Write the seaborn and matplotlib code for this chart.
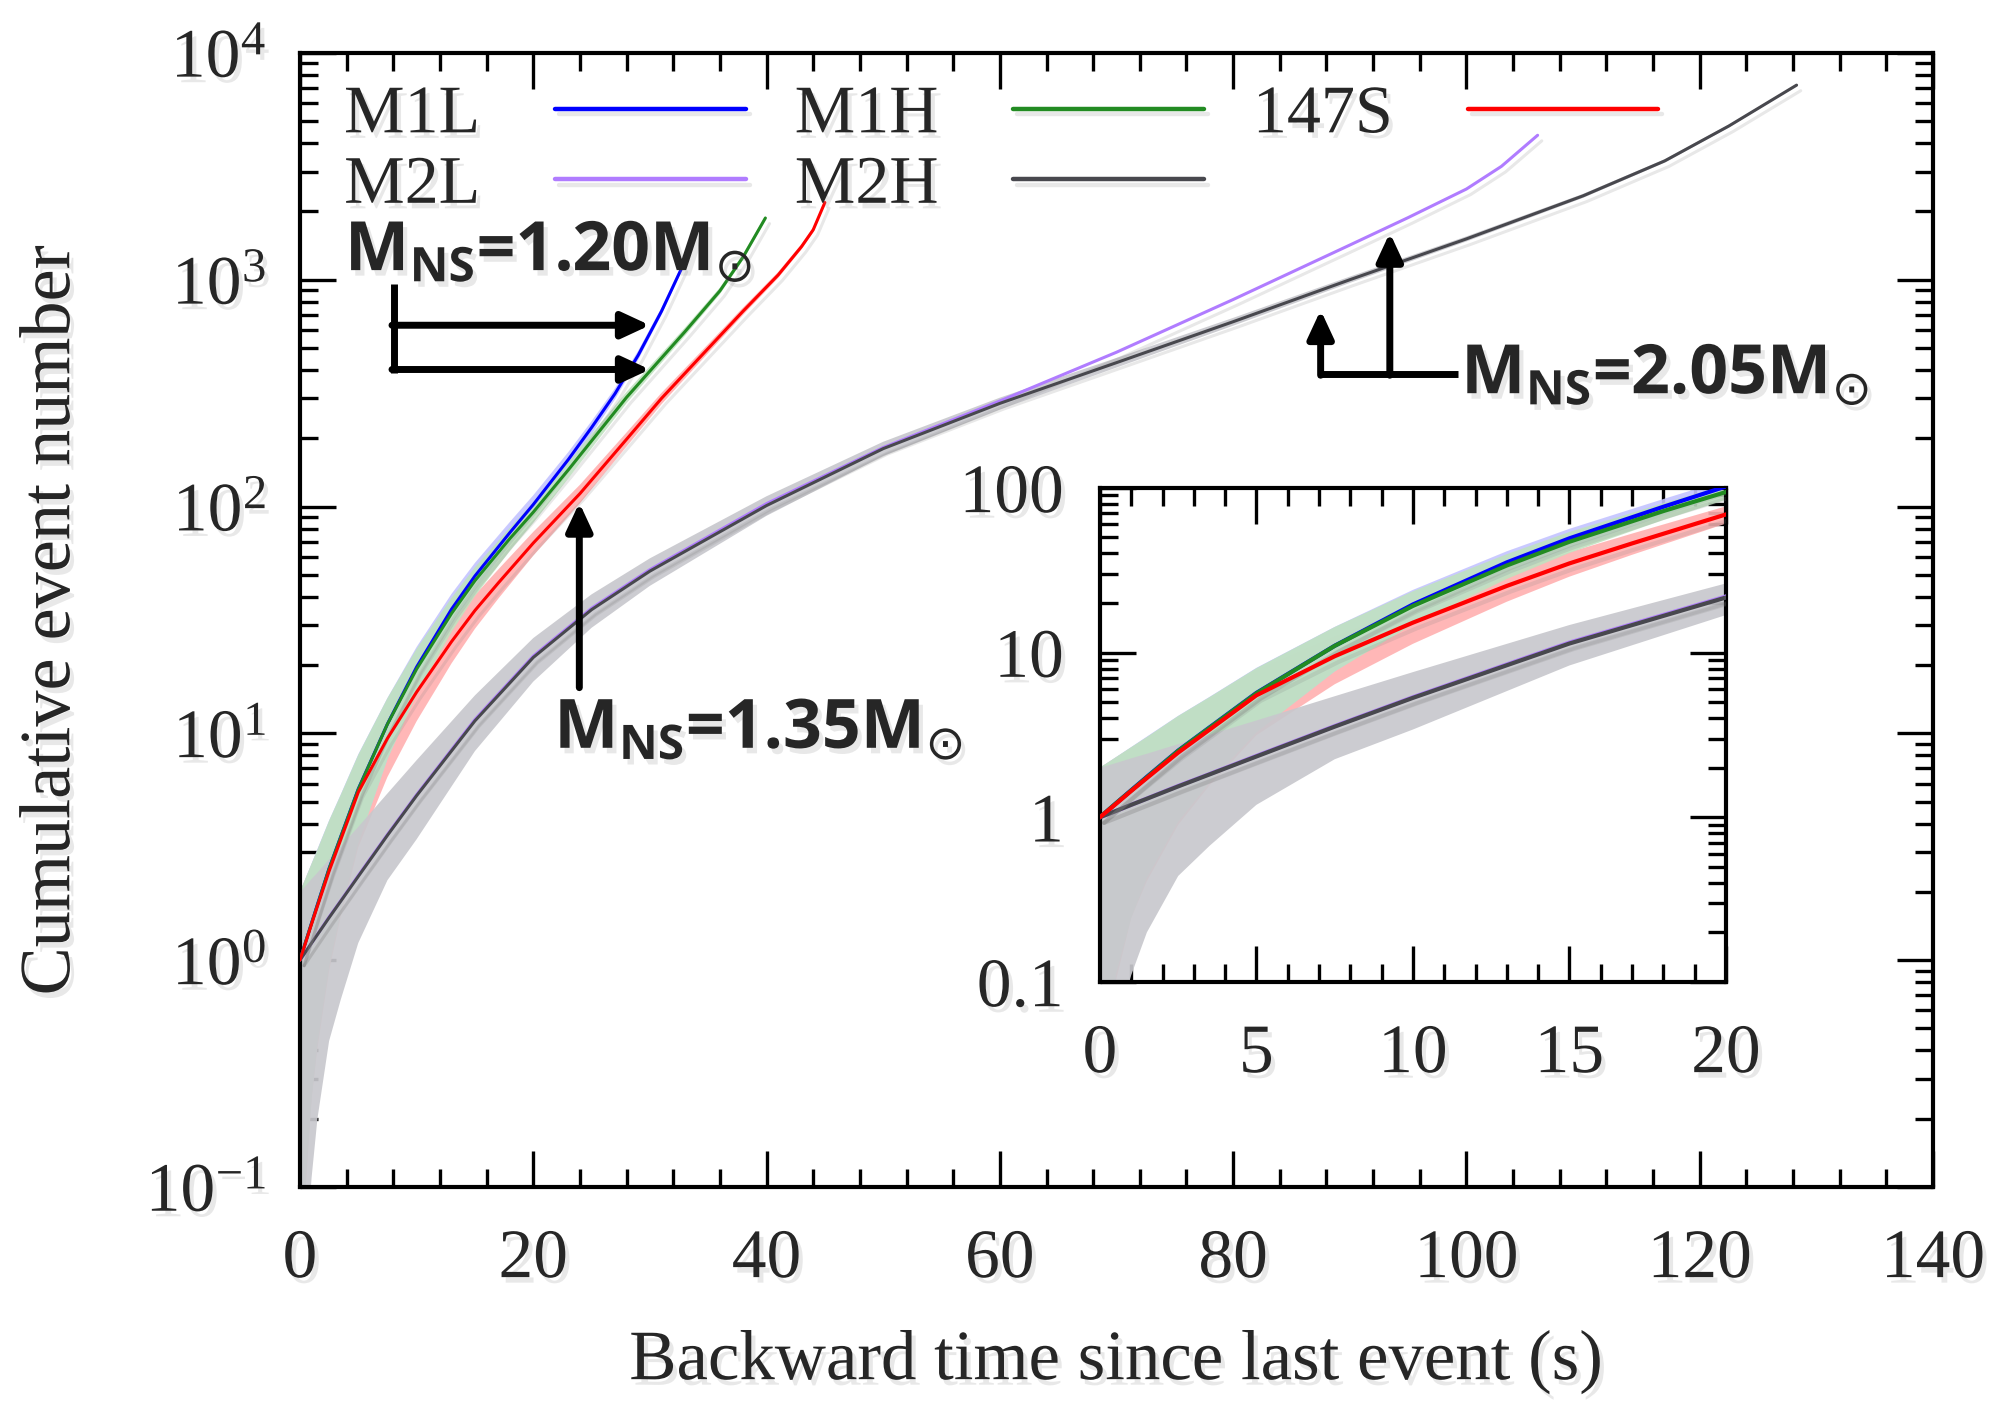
import matplotlib
matplotlib.use("Agg")
import numpy as np
import pandas as pd
import matplotlib.pyplot as plt
import matplotlib.patheffects as pe
from matplotlib.ticker import (MultipleLocator, LogLocator, FixedLocator,
                               FixedFormatter, NullFormatter, LogFormatterMathtext)
import seaborn as sns

# ------------------------------------------------------------------ data
# backward time t (s), cumulative event number n, band half-width / band edges
m1l_t = [0, 0.5, 1, 1.5, 2.5, 3.5, 5, 7.5, 10, 13, 15, 18, 20, 23, 25, 27, 29, 31, 32.8]
m1l_n = [1, 1.21, 1.46, 1.76, 2.54, 3.51, 5.69, 11.0, 19.6, 35.3, 49.4, 76.8, 102, 161, 223, 314, 465, 727, 1147]
m1l_e = [1, 1.1, 1.21, 1.33, 1.59, 1.87, 2.39, 3.32, 4.43, 5.94, 7.03, 8.76, 10.1, 12.7, 14.9, 17.7, 21.6, 27.0, 33.9]

m1h_t = [0, 0.5, 1, 1.5, 2.5, 3.5, 5, 7.5, 10, 13, 15, 18, 20, 23, 28, 33, 36, 38, 39.9]
m1h_n = [1, 1.21, 1.455, 1.75, 2.53, 3.49, 5.66, 10.98, 19.2, 33.8, 47.1, 72.3, 94.4, 145, 303, 590, 893, 1262, 1871]
m1h_e = [1, 1.1, 1.21, 1.32, 1.59, 1.87, 2.38, 3.31, 4.38, 5.81, 6.86, 8.5, 9.72, 12.0, 17.4, 24.3, 29.9, 35.5, 43.3]

s147_t = [0, 0.5, 1, 1.5, 2.5, 3.5, 5, 7.5, 10, 13, 15, 17, 20, 24, 28, 31, 35, 38, 41, 43, 44, 45]
s147_n = [1, 1.2, 1.445, 1.73, 2.47, 3.4, 5.5, 9.5, 15.2, 25.4, 34.8, 46, 69, 114, 198, 300, 498, 728, 1050, 1400, 1660, 2190]
s147_e = [1, 1.1, 1.2, 1.32, 1.57, 1.84, 2.35, 3.08, 3.9, 5.04, 5.9, 6.78, 8.3, 10.7, 14.1, 17.3, 22.3, 27.0, 32.4, 37.4, 40.7, 46.8]

m2l_t = [0, 0.5, 1, 1.5, 2.5, 3.5, 5, 7.5, 10, 15, 20, 25, 30, 40, 50, 60, 70, 80, 90, 95, 100, 103, 106.1]
m2l_n = [1, 1.09, 1.19, 1.3, 1.55, 1.83, 2.36, 3.58, 5.36, 11.5, 21.9, 35.6, 52.7, 103, 182, 292, 479, 818, 1422, 1879, 2512, 3162, 4335]

m2h_t = [0, 0.5, 1, 1.5, 2.5, 3.5, 5, 7.5, 10, 15, 20, 25, 30, 40, 50, 60, 70, 80, 90, 100, 110, 117, 122.5, 128.3]
m2h_n = [1, 1.09, 1.19, 1.296, 1.54, 1.82, 2.34, 3.55, 5.31, 11.35, 21.6, 35.1, 51.9, 101, 180, 285, 431, 653, 1000, 1514, 2344, 3342, 4764, 7211]
m2h_lo = [0, 0.05, 0.11, 0.2, 0.44, 0.67, 1.19, 2.25, 3.41, 8.35, 16.9, 29.2, 44.7, 91, 167, 268, 410, 627, 968, 1475, 2296, 3284, 4695, 7126]
m2h_hi = [2, 2.13, 2.28, 2.43, 2.78, 3.17, 3.87, 5.43, 7.61, 14.7, 26.3, 41, 59.1, 111, 193, 302, 452, 679, 1032, 1553, 2392, 3400, 4833, 7296]

line_colors = {"M1L": "#0000ff", "M1H": "#228b22", "147S": "#ff0000",
               "M2L": "#b07cff", "M2H": "#48484e"}
band_colors = {"M1L": "#c4c4ff", "M1H": "#c0e2c0", "147S": "#ffb0b0",
               "M2H": "#c8c8cd"}
band_alpha = {"M1L": 0.9, "M1H": 0.9, "147S": 0.9, "M2H": 0.92}

frames = []
for name, t, n, lo, hi in [
        ("M1L", m1l_t, m1l_n, np.subtract(m1l_n, m1l_e), np.add(m1l_n, m1l_e)),
        ("M1H", m1h_t, m1h_n, np.subtract(m1h_n, m1h_e), np.add(m1h_n, m1h_e)),
        ("147S", s147_t, s147_n, np.subtract(s147_n, s147_e), np.add(s147_n, s147_e)),
        ("M2L", m2l_t, m2l_n, m2l_n, m2l_n),
        ("M2H", m2h_t, m2h_n, m2h_lo, m2h_hi)]:
    frames.append(pd.DataFrame({"model": name, "t": t, "n": n, "lo": lo, "hi": hi}))
df = pd.concat(frames, ignore_index=True)

# annotation values (data coordinates)
ann_120_text = (3.86, 1099)
ann_120_bar_x, ann_120_bar_top, ann_120_bar_bot = 8.04, 955, 388
ann_120_arrows = [(630, 30.0), (402, 30.0)]
ann_135_text = (21.8, 8.6)
ann_135_arrow = (23.95, 15.9, 104)
ann_205_text = (99.55, 315)
ann_205_hline = (87.25, 99.3, 385)
ann_205_arrows = [(93.43, 1611), (87.5, 735)]

# ------------------------------------------------------------------ style
sns.set_theme(style="ticks")
plt.rcParams["font.family"] = ["Liberation Serif", "DejaVu Serif"]
plt.rcParams["mathtext.fontset"] = "dejavusans"
plt.rcParams["axes.unicode_minus"] = False
plt.rcParams["axes.linewidth"] = 3.0

shadow_txt = [pe.withSimplePatchShadow(offset=(3, -4), shadow_rgbFace=(0.6, 0.6, 0.6), alpha=0.22)]
shadow_line = [pe.SimpleLineShadow(offset=(3, -4), shadow_color="0.5", alpha=0.18), pe.Normal()]

fig = plt.figure(figsize=(20.09, 14.04), dpi=100)
ax = fig.add_axes([0.1493, 0.1546, 0.8129, 0.8077])
axin = fig.add_axes([0.5475, 0.3006, 0.3116, 0.3519])

band_order = ["147S", "M1L", "M1H", "M2H"]
line_order = ["M2L", "M2H", "M1L", "M1H", "147S"]


def draw(a, lw):
    a.set_yscale("log", nonpositive="clip")
    for name in band_order:
        sub = df[df.model == name]
        a.fill_between(sub.t, sub.lo, sub.hi, color=band_colors[name],
                       alpha=band_alpha[name], lw=0, zorder=1)
    for name in line_order:
        sub = df[df.model == name]
        sns.lineplot(data=sub, x="t", y="n", color=line_colors[name], lw=lw,
                     ax=a, label=name, sort=False, estimator=None, legend=False,
                     zorder=3)
    for ln in a.get_lines():
        ln.set_path_effects(shadow_line)
    a.set_xlabel("")
    a.set_ylabel("")


def style_ticks(a, labelsize):
    a.tick_params(which="both", direction="in", top=True, right=True,
                  width=2.4, color="black")
    a.tick_params(which="major", length=26, pad=24, labelsize=labelsize)
    a.tick_params(which="minor", length=13)
    for sp in a.spines.values():
        sp.set_linewidth(3.0)
        sp.set_color("black")


# ---------------- main axes
draw(ax, 2.2)
ax.set_xlim(0, 140)
ax.set_ylim(0.1, 1e4)
ax.xaxis.set_major_locator(MultipleLocator(20))
ax.xaxis.set_minor_locator(MultipleLocator(4))
ax.yaxis.set_major_locator(LogLocator(base=10, numticks=10))
ax.yaxis.set_minor_locator(LogLocator(base=10, subs=np.arange(2, 10), numticks=20))
ax.yaxis.set_major_formatter(LogFormatterMathtext())
ax.yaxis.set_minor_formatter(NullFormatter())
style_ticks(ax, 50)
ax.tick_params(axis="x", which="major", pad=30)
for lab in ax.get_xticklabels() + ax.get_yticklabels():
    lab.set_path_effects(shadow_txt)

ax.set_xlabel("Backward time since last event (s)", fontsize=51)
ax.xaxis.set_label_coords(0.5, -0.154)
ax.xaxis.label.set_va("center")
ax.set_ylabel("Cumulative event number", fontsize=52)
ax.yaxis.set_label_coords(-0.152, 0.5)
ax.yaxis.label.set_va("center")
ax.xaxis.label.set_path_effects(shadow_txt)
ax.yaxis.label.set_path_effects(shadow_txt)

# legend: label first, then line
handles, labels = ax.get_legend_handles_labels()
hmap = dict(zip(labels, handles))
order = ["M1L", "M2L", "M1H", "M2H", "147S"]
leg = ax.legend([hmap[k] for k in order], order, ncol=3, markerfirst=False,
                frameon=False, fontsize=49, handlelength=2.8, handletextpad=1.1,
                columnspacing=0.72, labelspacing=0.13, borderpad=0,
                borderaxespad=0, loc="upper left", bbox_to_anchor=(0.027, 0.972))
for h in leg.legend_handles:
    h.set_linewidth(3.2)
    h.set_path_effects(shadow_line)
for t in leg.get_texts():
    t.set_path_effects(shadow_txt)

# annotations
afont = dict(family=["Open Sans", "DejaVu Sans"], weight="bold", size=49)
txt_kw = dict(ha="left", va="baseline", path_effects=shadow_txt, zorder=6, **afont)
ax.text(ann_120_text[0], ann_120_text[1], r"M$_{\mathdefault{NS}}$=1.20M$_{\odot}$", **txt_kw)
ax.text(ann_135_text[0], ann_135_text[1], r"M$_{\mathdefault{NS}}$=1.35M$_{\odot}$", **txt_kw)
ax.text(ann_205_text[0], ann_205_text[1], r"M$_{\mathdefault{NS}}$=2.05M$_{\odot}$", **txt_kw)

arrow_kw = dict(arrowstyle="-|>,head_length=1.4,head_width=0.65", color="black",
                lw=5, shrinkA=0, shrinkB=0)
ax.plot([ann_120_bar_x, ann_120_bar_x], [ann_120_bar_top, ann_120_bar_bot],
        color="black", lw=5, solid_capstyle="butt", zorder=6)
for yv, xt in ann_120_arrows:
    ax.annotate("", xy=(xt, yv), xytext=(ann_120_bar_x - 0.15, yv),
                arrowprops=arrow_kw, zorder=6)
ax.annotate("", xy=(ann_135_arrow[0], ann_135_arrow[2]),
            xytext=(ann_135_arrow[0], ann_135_arrow[1]), arrowprops=arrow_kw, zorder=6)
ax.plot([ann_205_hline[0], ann_205_hline[1]], [ann_205_hline[2], ann_205_hline[2]],
        color="black", lw=5, solid_capstyle="butt", zorder=6)
for xv, yt in ann_205_arrows:
    ax.annotate("", xy=(xv, yt), xytext=(xv, ann_205_hline[2] * 0.985),
                arrowprops=arrow_kw, zorder=6)

# ---------------- inset
draw(axin, 3.0)
axin.set_facecolor("white")
axin.set_xlim(0, 20)
axin.set_ylim(0.1, 100)
axin.xaxis.set_major_locator(MultipleLocator(5))
axin.xaxis.set_minor_locator(MultipleLocator(1))
axin.yaxis.set_major_locator(FixedLocator([0.1, 1, 10, 100]))
axin.yaxis.set_major_formatter(FixedFormatter(["0.1", "1", "10", "100"]))
axin.yaxis.set_minor_locator(LogLocator(base=10, subs=np.arange(2, 10), numticks=20))
axin.yaxis.set_minor_formatter(NullFormatter())
style_ticks(axin, 50)
axin.tick_params(axis="x", which="major", pad=30)
axin.tick_params(axis="y", which="major", pad=26)
for lab in axin.get_xticklabels() + axin.get_yticklabels():
    lab.set_path_effects(shadow_txt)

fig.savefig("out.png", dpi=100, facecolor="white")
